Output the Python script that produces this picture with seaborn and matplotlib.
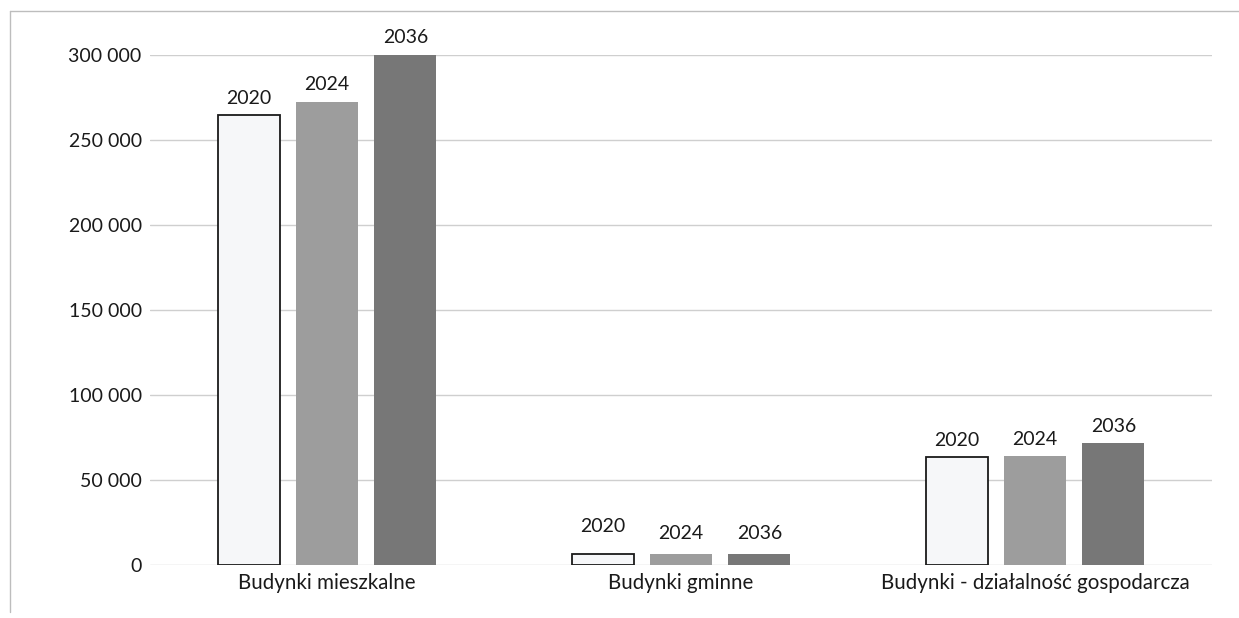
import numpy as np
import pandas as pd
import matplotlib
matplotlib.use("Agg")
import matplotlib.pyplot as plt
import seaborn as sns
from matplotlib.ticker import FuncFormatter

# values
categories = ["Budynki mieszkalne", "Budynki gminne", "Budynki - działalność gospodarcza"]
years = ["2020", "2024", "2036"]
v2020 = [264500, 6300, 63500]
v2024 = [272500, 6200, 64200]
v2036 = [300200, 6200, 71800]

df = pd.DataFrame({
    "kategoria": categories * 3,
    "rok": [y for y in years for _ in categories],
    "wartosc": v2020 + v2024 + v2036,
})

sns.set_theme(style="white")
plt.rcParams["font.family"] = ["Lato", "DejaVu Sans"]

fig = plt.figure(figsize=(12.39, 6.18), dpi=100)
ax = fig.add_axes([150 / 1239, 1 - 565 / 618, 1062 / 1239, 510 / 618])

palette = {"2020": "#f6f7f9", "2024": "#9d9d9d", "2036": "#777777"}
sns.barplot(data=df, x="kategoria", y="wartosc", hue="rok", order=categories,
            hue_order=years, palette=palette, width=0.665, gap=0.21,
            saturation=1, ax=ax, legend=False)

# outline only the 2020 bars, year names above the bars
for i, cont in enumerate(ax.containers):
    for bar in cont:
        if i == 0:
            bar.set_edgecolor("#1a1a1a")
            bar.set_linewidth(1.3)
        else:
            bar.set_edgecolor("none")
    texts = ax.bar_label(cont, labels=[years[i]] * len(cont), padding=6,
                         fontsize=14, color="#1a1a1a")
    texts[1].xyann = (0, 14 if i == 0 else 9)

ax.set_ylim(0, 300000)
ax.set_xlim(-0.5, 2.5)
ax.set_yticks(np.arange(0, 300001, 50000))
ax.yaxis.set_major_formatter(FuncFormatter(lambda v, p: f"{int(v):,}".replace(",", " ")))
ax.yaxis.grid(True, color="#cfcfcf", linewidth=1)
ax.set_axisbelow(True)
for s in ax.spines.values():
    s.set_visible(False)
ax.set_xlabel("")
ax.set_ylabel("")
ax.tick_params(axis="y", labelsize=14, colors="#1a1a1a", length=0, pad=6)
ax.tick_params(axis="x", labelsize=14.8, colors="#1a1a1a", length=0, pad=6)

# chart frame lines (top and left)
fig.add_artist(plt.Line2D([10 / 1239, 1], [1 - 11 / 618] * 2,
                          color="#bdbdbd", linewidth=1, transform=fig.transFigure))
fig.add_artist(plt.Line2D([10 / 1239] * 2, [1 - 11 / 618, 1 - 612 / 618],
                          color="#bdbdbd", linewidth=1, transform=fig.transFigure))

fig.savefig("out.png", dpi=100)
